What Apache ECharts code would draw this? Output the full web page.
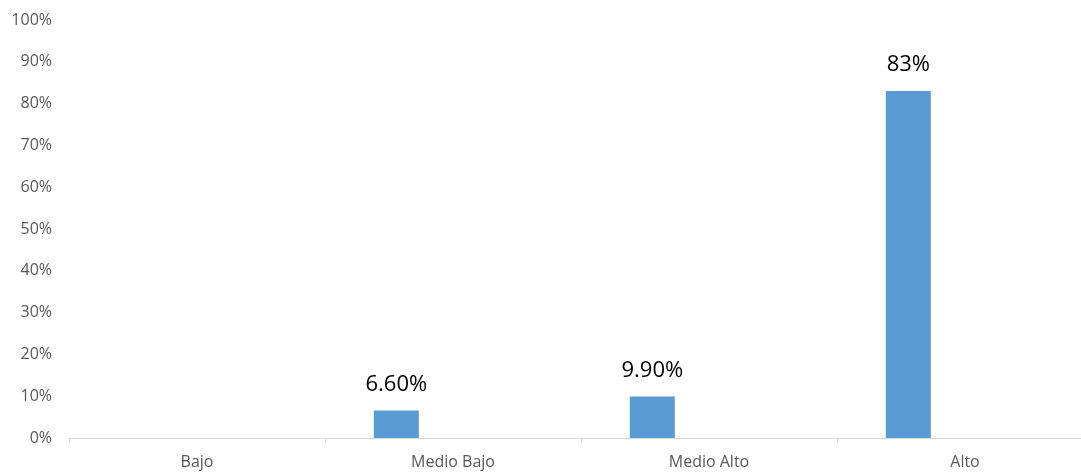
<!DOCTYPE html>
<html>
<head>
<meta charset="utf-8">
<script src="https://cdn.jsdelivr.net/npm/echarts@6/dist/echarts.min.js"></script>
<style>
  html, body { margin: 0; padding: 0; background: #fff; overflow: hidden; }
  /* the original's last category runs past the right edge, so the canvas is a bit wider than the window */
  #chart { width: 1093px; height: 472px; }
</style>
</head>
<body>
<div id="chart"></div>
<script>
// categories and values
const categories = ['Bajo', 'Medio Bajo', 'Medio Alto', 'Alto']
const shares = [0, 0.066, 0.099, 0.83]
const shareLabels = ['', '6.60%', '9.90%', '83%']
// second (empty) series keeps bars shifted left like the original
const emptySeries = [null, null, null, null]

const myChart = echarts.init(document.getElementById('chart'))

const option = {
    animation: false,
    textStyle: { fontFamily: 'Open Sans' },
    grid: { left: 69, right: 0, top: 20, bottom: 34 },
    xAxis: {
        type: 'category',
        data: categories,
        axisLine: { lineStyle: { color: '#D9D9D9', width: 1 } },
        axisTick: { show: true, length: 5, lineStyle: { color: '#D9D9D9' } },
        axisLabel: { color: '#595959', fontSize: 16, margin: 16 }
    },
    yAxis: {
        type: 'value',
        min: 0,
        max: 1,
        interval: 0.1,
        axisLine: { show: false },
        axisTick: { show: false },
        splitLine: { show: false },
        axisLabel: {
            color: '#595959',
            fontSize: 16,
            margin: 17,
            formatter: v => Math.round(v * 100) + '%'
        }
    },
    series: [
        {
            type: 'bar',
            data: shares,
            barWidth: 45,
            barGap: '152%',
            itemStyle: { color: '#5B9BD5' },
            label: {
                show: true,
                position: 'top',
                distance: 15,
                color: '#000',
                fontSize: 22,
                formatter: p => shareLabels[p.dataIndex]
            }
        },
        {
            type: 'bar',
            data: emptySeries,
            barWidth: 45
        }
    ]
}

myChart.setOption(option)
</script>
</body>
</html>
